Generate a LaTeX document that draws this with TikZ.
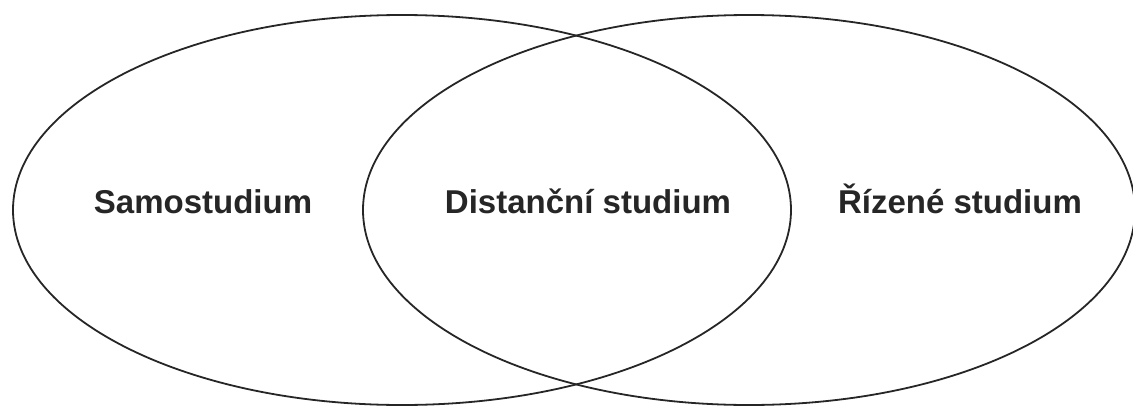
\documentclass[tikz,border=0pt]{standalone}
\usepackage{fontspec}
\setmainfont{Liberation Sans}
\begin{document}
\begin{tikzpicture}[x=1pt,y=-1pt,
  setring/.style={draw=black!85, line width=1.8pt},
  lbl/.style={font=\fontsize{33}{39}\selectfont\bfseries, text=black!85, inner sep=0pt, anchor=base}]
\useasboundingbox (0,0) rectangle (1133,407);
\draw[setring] (402,210) ellipse [x radius=389, y radius=195];
\draw[setring] (749,210) ellipse [x radius=386, y radius=195];
\node[lbl] (s) at (203,213) {Samostudium};
\node[lbl] (d) at (588,213) {Distanční studium};
\node[lbl] (r) at (960,213) {Řízené studium};
\end{tikzpicture}
\end{document}
